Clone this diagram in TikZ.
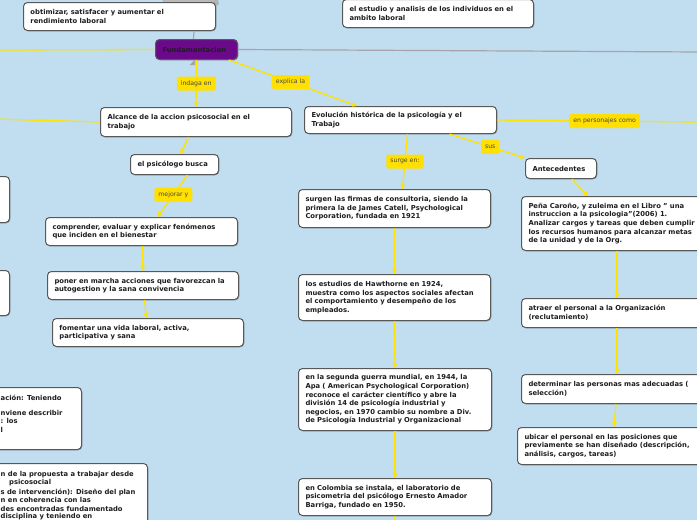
\documentclass[tikz,border=0pt]{standalone}
\usepackage{fontspec}
\setmainfont{DejaVu Sans}
\usetikzlibrary{calc,arrows.meta,shadows}
\definecolor{bg}{RGB}{193,221,240}
\definecolor{yl}{RGB}{255,226,0}
\definecolor{ylab}{RGB}{255,224,0}
\definecolor{bord}{RGB}{88,88,88}
\definecolor{txt}{RGB}{30,30,30}
\definecolor{purp}{RGB}{106,10,138}
\definecolor{gline}{RGB}{165,165,165}
\tikzset{
 box/.style={draw=bord, line width=1pt, rounded corners=4pt, fill=white, anchor=north west,
   align=left, inner xsep=7pt, inner ysep=0pt,
   font=\bfseries\fontsize{6.8}{8.6}\selectfont, text=txt,
   drop shadow={shadow xshift=0.8pt, shadow yshift=-0.8pt, opacity=0.3, fill=black}},
 frag/.style={anchor=west, inner sep=0pt, font=\bfseries\fontsize{6.8}{8.6}\selectfont, text=txt},
 lab/.style={fill=ylab, rounded corners=2pt, inner xsep=4pt, inner ysep=0pt, minimum height=14pt,
   font=\fontsize{6.2}{7}\selectfont, text=black!72},
 yline/.style={draw=yl, line width=1.3pt},
 yarr/.style={yline, -{Stealth[length=5pt,width=5pt]}},
 gln/.style={draw=gline, line width=1.2pt},
}
\begin{document}
\begin{tikzpicture}[x=1pt,y=-1pt]
\useasboundingbox (0,0) rectangle (697,520);
\clip (0,0) rectangle (697,520);
\fill[bg] (0,0) rectangle (697,520);

% partial gray node at top
\filldraw[fill=gray!55, draw=gray!70, rounded corners=3pt] (163,-15) rectangle (218,3);
\fill[gray!60] (216,3) circle (3pt);

% boxes
\node[box, text width=178pt, minimum height=28pt] (obt) at (23,2) {obtimizar, satisfacer y aumentar el\\rendimiento laboral};
\node[box, text width=177pt, minimum height=28pt] (est) at (342,-1) {el estudio y analisis de los individuos en el\\ambito laboral};
\node[box, fill=purp, text width=68pt, minimum height=20pt] (fund) at (155,39) {Fundamentacion};
\node[box, text width=177pt, minimum height=29pt] (alc) at (100,107) {Alcance de la accion psicosocial en el\\trabajo};
\node[box, text width=74pt, minimum height=20pt] (bus) at (130,154) {el psicólogo busca};
\node[box, text width=178pt, minimum height=28pt] (com) at (45,217) {comprender, evaluar y explicar fenómenos\\que inciden en el bienestar};
\node[box, text width=177pt, minimum height=28pt] (pon) at (47,271) {poner en marcha acciones que favorezcan la\\autogestion y la sana convivencia};
\node[box, text width=177pt, minimum height=28pt] (fom) at (52,318) {fomentar una vida laboral, activa,\\participativa y sana};
\node[box, text width=178pt, minimum height=27pt] (evo) at (304,106) {Evolución histórica de la psicología y el\\Trabajo};
\node[box, text width=178pt, minimum height=38pt] (sur) at (298,189) {surgen las firmas de consultoria, siendo la\\primera la de James Catell, Psychological\\Corporation, fundada en 1921};
\node[box, text width=178pt, minimum height=46pt] (haw) at (298,274) {los estudios de Hawthorne en 1924,\\muestra como los aspectos sociales afectan\\el comportamiento y desempeño de los\\empleados.};
\node[box, text width=179pt, minimum height=62pt] (gue) at (298,368) {en la segunda guerra mundial, en 1944, la\\Apa ( American Psychological Corporation)\\reconoce el carácter científico y abre la\\división 14 de psicología industrial y\\negocios, en 1970 cambio su nombre a Div.\\de Psicología Industrial y Organizacional};
\node[box, text width=179pt, minimum height=37pt] (col) at (298,478) {en Colombia se instala, el laboratorio de\\psicometria del psicólogo Ernesto Amador\\Barriga, fundado en 1950.};
\node[box, text width=57pt, minimum height=20pt] (ant) at (525,158) {Antecedentes};
\node[box, text width=200pt, minimum height=54pt] (pen) at (521,196) {Peña Caroño, y zuleima en el Libro " una\\instruccion a la psicologia"(2006) 1.\\Analizar cargos y tareas que deben cumplir\\los recursos humanos para alcanzar metas\\de la unidad y de la Org.};
\node[box, text width=200pt, minimum height=29pt] (atr) at (521,298) {atraer el personal a la Organización\\(reclutamiento)};
\node[box, text width=200pt, minimum height=29pt] (det) at (521,374) {determinar las personas mas adecuadas (\\selección)};
\node[box, text width=200pt, minimum height=37pt] (ubi) at (517,427) {ubicar el personal en las posiciones que\\previamente se han diseñado (descripción,\\análisis, cargos, tareas)};

% partial boxes on the left edge
\node[box, minimum width=110pt, minimum height=46pt] (lb1) at (-101,176) {};
\node[box, minimum width=110pt, minimum height=45pt] (lb2) at (-101,270) {};
\node[box, minimum width=201pt, minimum height=62pt] (lb3) at (-120,387) {};
\node[box, minimum width=207pt, minimum height=80pt] (lb4) at (-60,463) {};
\node[frag] (f1) at (0.5,398) {ación: Teniendo};
\node[frag] (f2) at (0.5,413) {nviene describir};
\node[frag] (f3) at (0.5,421) {: los};
\node[frag] (f4) at (0.5,430) {l};
\node[frag] (g1) at (0.5,475) {n de la propuesta a trabajar desde};
\node[frag] (g2) at (9,483) {psicosocial};
\node[frag] (g3) at (0.5,492) {s de intervención): Diseño del plan};
\node[frag] (g4) at (0.5,500) {n en coherencia con las};
\node[frag] (g5) at (0.5,509) {des encontradas fundamentado};
\node[frag] (g6) at (0.5,517) {disciplina y teniendo en};

% free ends
\coordinate (yl1) at (-5,50);
\coordinate (yl2) at (-5,119);
\coordinate (gr) at (700,52);
\coordinate (yr) at (700,122);
\coordinate (cb) at (394.5,525);

% connectors
\draw[gln] ($(obt.south east)+(-22,0)$) -- ($(fund.north)+(-3,0)$);
\fill[gline] (189.5,65) -- (195,59.5) -- (195,65) -- cycle;
\draw[gln] (fund.east) -- (gr);
\draw[yline] (fund.west) -- (yl1);
\draw[yline] (alc.west) -- (yl2);
\draw[yarr] (fund.south) -- node[lab]{indaga en} (alc.north);
\draw[yarr] (fund.-18) -- node[lab,pos=0.48]{explica la} (evo.162);
\draw[yarr] ($(alc.south)+(-7.5,0)$) -- ($(bus.north)+(6,0)$);
\draw[yarr] ($(bus.south)+(13,0)$) -- node[lab,pos=0.47]{mejorar y} ($(com.north)+(16,0)$);
\draw[yarr] ($(com.south)+(1,0)$) -- (pon.north);
\draw[yarr] ($(pon.south)+(1.5,0)$) -- ($(fom.north)+(-1.5,0)$);
\draw[yline] (evo.east) -- node[lab,pos=0.53]{en personajes como} (yr);
\draw[yarr] ($(evo.south)+(7,0)$) -- node[lab]{surge en:} ($(sur.north)+(8,0)$);
\draw[yarr] ($(evo.south)+(49,0)$) -- node[lab,pos=0.54]{sus} (ant.north west);
\draw[yarr] (sur.south) -- (haw.north);
\draw[yarr] (haw.south) -- (gue.north);
\draw[yarr] (gue.south) -- (col.north);
\draw[yline] (col.south) -- (cb);
\draw[yarr] ($(ant.south)+(11,0)$) -- ($(pen.north west)+(67,0)$);
\draw[yarr] ($(pen.south west)+(96,0)$) -- ($(atr.north west)+(96,0)$);
\draw[yarr] ($(atr.south west)+(96,0)$) -- ($(det.north west)+(96,0)$);
\draw[yarr] ($(det.south west)+(95,0)$) -- ($(ubi.north west)+(97,0)$);
\end{tikzpicture}
\end{document}
